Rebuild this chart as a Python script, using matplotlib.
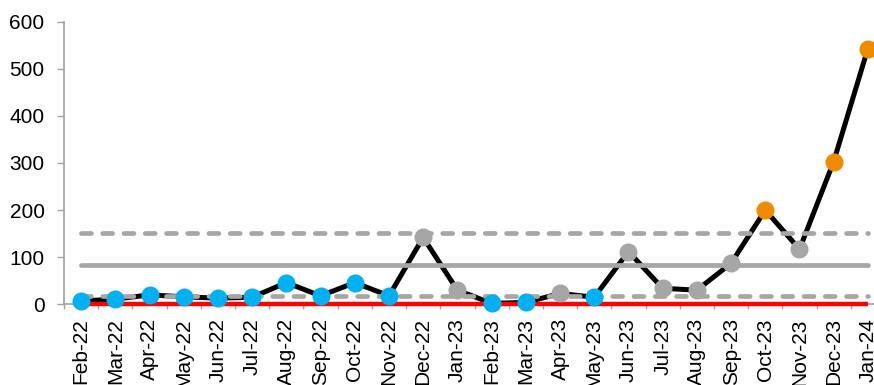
import matplotlib
matplotlib.use("Agg")
import matplotlib.pyplot as plt

plt.rcParams["font.family"] = ["Liberation Sans", "DejaVu Sans"]

months = ["Feb-22", "Mar-22", "Apr-22", "May-22", "Jun-22", "Jul-22", "Aug-22",
          "Sep-22", "Oct-22", "Nov-22", "Dec-22", "Jan-23", "Feb-23", "Mar-23",
          "Apr-23", "May-23", "Jun-23", "Jul-23", "Aug-23", "Sep-23", "Oct-23",
          "Nov-23", "Dec-23", "Jan-24"]
values = [7, 11, 20, 16, 13, 15, 46, 18, 46, 18, 142, 30, 2, 4, 23, 15,
          112, 34, 30, 87, 200, 117, 303, 543]
# point status: b = within normal range, g = signal, o = alert
status = ["b", "b", "b", "b", "b", "b", "b", "b", "b", "b", "g", "g", "b", "b",
          "g", "b", "g", "g", "g", "g", "o", "g", "o", "o"]
center_line = 84
upper_limit = 151
lower_limit = 17
baseline = 0

status_colors = {"b": "#00B0F0", "g": "#A6A6A6", "o": "#F08A00"}

fig = plt.figure(figsize=(8.74, 3.85), dpi=100)
ax = fig.add_axes([64 / 874, (385 - 304.3) / 385, 821 / 874, 282.6 / 385])

x = list(range(len(months)))
ax.plot(x, values, color="black", lw=3.6, zorder=2, solid_joinstyle="miter",
        clip_on=False)

ax.plot([x[0], x[-1]], [baseline, baseline], color="#FF0000", lw=3.2, zorder=3,
        solid_capstyle="butt", clip_on=False)
ax.plot([x[0], x[-1]], [center_line, center_line], color="#A6A6A6", lw=3.4,
        zorder=3, solid_capstyle="round")
for lim in (upper_limit, lower_limit):
    ax.plot([x[0], x[-1]], [lim, lim], color="#A6A6A6", lw=3.4, zorder=3,
            dashes=(2.1, 2.4), dash_capstyle="round")

for xi, v, s in zip(x, values, status):
    ax.plot(xi, v, "o", ms=13, color=status_colors[s], mec="none", zorder=4,
            clip_on=False)

ax.set_xlim(-0.5, len(months) - 0.5)
ax.set_ylim(0, 600)
ax.set_yticks(range(0, 601, 100))

ax.set_xticks(x)
ax.set_xticklabels(months, rotation=90, fontsize=15)
ax.set_xticks([i + 0.5 for i in x[:-1]] + [-0.5, len(months) - 0.5], minor=True)
ax.tick_params(axis="x", which="major", length=0, pad=10)
ax.tick_params(axis="x", which="minor", length=3.6, color="#A0A0A0", width=1)
ax.tick_params(axis="y", length=5, color="#A0A0A0", width=1, labelsize=15, pad=9)

for side in ("top", "right"):
    ax.spines[side].set_visible(False)
for side in ("left", "bottom"):
    ax.spines[side].set_color("#A0A0A0")
    ax.spines[side].set_linewidth(1.2)

fig.savefig("out.png", dpi=100)
